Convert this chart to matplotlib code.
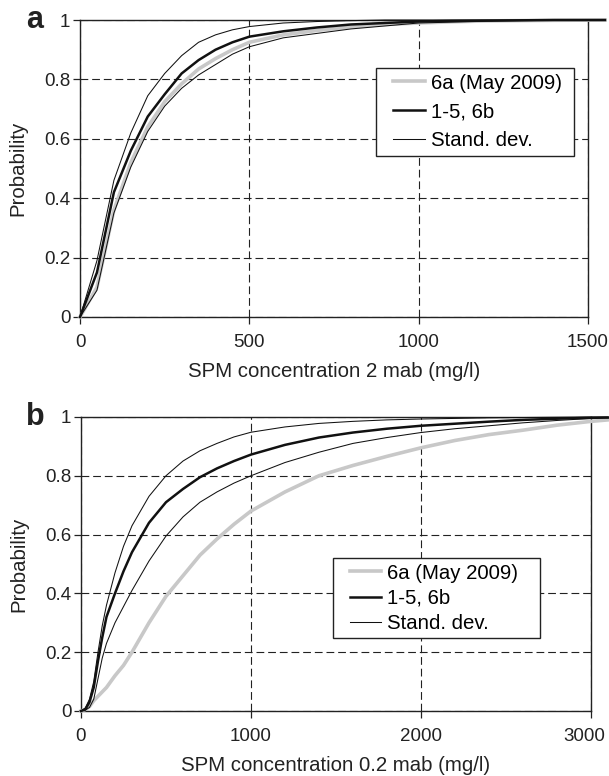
import matplotlib
matplotlib.use("Agg")
import matplotlib.pyplot as plt
import matplotlib.transforms as mtransforms
from matplotlib.lines import Line2D
from matplotlib.legend_handler import HandlerLine2D

plt.rcParams['font.family'] = ['Liberation Sans', 'DejaVu Sans']

# ----- panel a: SPM 2 mab -----
a_x = [0, 50, 100, 150, 200, 250, 300, 350, 400, 450, 500, 600, 700, 800,
       900, 1000, 1100, 1200, 1300, 1400, 1550]
a_may = [0, 0.10, 0.36, 0.52, 0.64, 0.725, 0.785, 0.835, 0.87, 0.90, 0.925,
         0.95, 0.965, 0.977, 0.985, 0.99, 0.994, 0.997, 0.998, 0.999, 1.0]
a_mean = [0, 0.15, 0.42, 0.56, 0.675, 0.75, 0.82, 0.865, 0.90, 0.925, 0.944,
          0.962, 0.975, 0.985, 0.99, 0.995, 0.997, 0.998, 0.999, 1.0, 1.0]
a_upper = [0, 0.19, 0.46, 0.62, 0.745, 0.82, 0.88, 0.925, 0.95, 0.967, 0.978,
           0.99, 0.995, 0.998, 1.0, 1.0, 1.0, 1.0, 1.0, 1.0, 1.0]
a_lower = [0, 0.09, 0.35, 0.505, 0.625, 0.71, 0.77, 0.815, 0.85, 0.885, 0.91,
           0.94, 0.955, 0.97, 0.98, 0.99, 0.993, 0.996, 0.998, 0.999, 1.0]

# ----- panel b: SPM 0.2 mab -----
b_x = [0, 25, 50, 75, 100, 125, 150, 200, 250, 300, 400, 500, 600, 700, 800,
       900, 1000, 1200, 1400, 1600, 1800, 2000, 2200, 2400, 2600, 2800, 3000, 3100]
b_may = [0, 0.005, 0.015, 0.035, 0.05, 0.065, 0.08, 0.12, 0.155, 0.20, 0.30,
         0.39, 0.46, 0.53, 0.585, 0.635, 0.68, 0.745, 0.80, 0.835, 0.866, 0.895,
         0.92, 0.94, 0.955, 0.972, 0.985, 0.99]
b_mean = [0, 0.005, 0.03, 0.08, 0.17, 0.25, 0.32, 0.40, 0.475, 0.54, 0.64,
          0.71, 0.755, 0.795, 0.825, 0.85, 0.872, 0.905, 0.93, 0.947, 0.96,
          0.97, 0.977, 0.984, 0.99, 0.994, 0.997, 0.998]
b_upper = [0, 0.01, 0.04, 0.10, 0.20, 0.29, 0.36, 0.47, 0.56, 0.63, 0.73,
           0.80, 0.85, 0.885, 0.91, 0.932, 0.948, 0.966, 0.978, 0.985, 0.99,
           0.993, 0.995, 0.997, 0.998, 0.999, 1.0, 1.0]
b_lower = [0, 0.003, 0.012, 0.04, 0.11, 0.18, 0.23, 0.30, 0.355, 0.41, 0.51,
           0.595, 0.66, 0.71, 0.745, 0.775, 0.80, 0.845, 0.88, 0.91, 0.93,
           0.947, 0.96, 0.97, 0.98, 0.988, 0.995, 0.997]

y_ticks = [0, 0.2, 0.4, 0.6, 0.8, 1]
y_labels = ['0', '0.2', '0.4', '0.6', '0.8', '1']
a_xticks = [0, 500, 1000, 1500]
b_xticks = [0, 1000, 2000, 3000]
labels = ['6a (May 2009)', '1-5, 6b', 'Stand. dev.']

fig = plt.figure(figsize=(6.09, 7.76), dpi=100)
ax_a = fig.add_axes([0.1314, 0.5915, 0.8342, 0.3827])
ax_b = fig.add_axes([0.1330, 0.0838, 0.8374, 0.3789])

# legend box: left, top, width (axes fractions)
panels = [
    (ax_a, a_x, a_may, a_mean, a_upper, a_lower, a_xticks, 1500,
     'SPM concentration 2 mab (mg/l)', 'a', (0.583, 0.838, 0.390), 0.48),
    (ax_b, b_x, b_may, b_mean, b_upper, b_lower, b_xticks, 3000,
     'SPM concentration 0.2 mab (mg/l)', 'b', (0.494, 0.520, 0.406), 0.30),
]

for ax, x, may, mean, up, lo, xt, xmax, xlabel, tag, leg_box, lspace in panels:
    l1, = ax.plot(x, may, color='#c8c8c8', lw=2.6, clip_on=False, zorder=3)
    l3, = ax.plot(x, up, color='#111111', lw=0.75, clip_on=False, zorder=4)
    ax.plot(x, lo, color='#111111', lw=0.75, clip_on=False, zorder=4)
    l2, = ax.plot(x, mean, color='#111111', lw=1.8, clip_on=False, zorder=5)

    ax.set_xlim(0, xmax)
    ax.set_ylim(0, 1)
    ax.set_xticks(xt)
    ax.set_xticklabels([str(v) for v in xt])
    ax.set_yticks(y_ticks)
    ax.set_yticklabels(y_labels)
    ax.tick_params(axis='both', labelsize=13.5, length=5, width=0.9,
                   colors='#222222', labelcolor='#222222')
    ax.tick_params(axis='x', pad=7)
    ax.tick_params(axis='y', pad=2)
    ax.grid(True, color='#222222', lw=0.8, ls=(0, (7, 3.5)))
    ax.set_axisbelow(True)
    for sp in ax.spines.values():
        sp.set_linewidth(1.0)
        sp.set_color('#222222')

    ax.set_xlabel(xlabel, fontsize=14.7, color='#222222', labelpad=8)
    ax.set_ylabel('Probability', fontsize=14.7, color='#222222', labelpad=12)
    ax.text(-0.09, 1.0, tag, transform=ax.transAxes, fontsize=22,
            fontweight='bold', ha='center', va='center', color='#222222')

    lx, ltop, lw = leg_box
    leg = ax.legend([l1, l2, l3], labels, loc='upper left', mode='expand',
                    bbox_to_anchor=(lx, ltop - 0.1, lw, 0.1), borderaxespad=0,
                    fontsize=14.7, frameon=True, fancybox=False, framealpha=1,
                    edgecolor='#222222', handlelength=2.1, handletextpad=0.3,
                    labelspacing=lspace, borderpad=0.27,
                    handler_map={Line2D: HandlerLine2D(xpad=0.55)})
    leg.get_frame().set_linewidth(1.0)
    leg.set_zorder(10)

# the last label of panel b sits a little inside the plot edge
last = ax_b.get_xticklabels()[-1]
last.set_transform(last.get_transform() +
                   mtransforms.ScaledTranslation(-0.07, 0, fig.dpi_scale_trans))

fig.savefig('out.png', dpi=100)
